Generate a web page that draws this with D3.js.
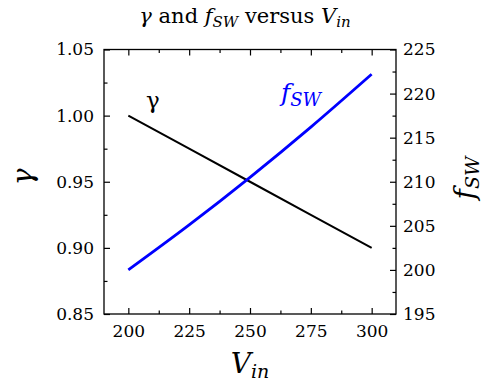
<!DOCTYPE html>
<html>
<head>
<meta charset="utf-8">
<script src="https://cdn.jsdelivr.net/npm/d3@7"></script>
<style>
  html, body { margin: 0; padding: 0; background: #fff; }
  svg { display: block; }
</style>
</head>
<body>
<svg id="chart" width="492" height="386"></svg>
<script>
// Input voltage samples and the two responses
const vin = [200, 225, 250, 275, 300];
const gamma = [1.000, 0.975, 0.950, 0.925, 0.900];
const fsw = [200.0, 205.1, 210.5, 216.2, 222.2];

const xTicks = [200, 225, 250, 275, 300];
const gammaTicks = [0.85, 0.90, 0.95, 1.00, 1.05];
const fswTicks = [195, 200, 205, 210, 215, 220, 225];

const SERIF = "'DejaVu Serif'";
const MATH = "'DejaVu Serif'";

const svg = d3.select("#chart");
const plot = { left: 104, top: 49.5, right: 396, bottom: 314 };

const x = d3.scaleLinear().domain([190, 310]).range([plot.left, plot.right]);
const yL = d3.scaleLinear().domain([0.85, 1.05]).range([plot.bottom, plot.top]);
const yR = d3.scaleLinear().domain([195, 225]).range([plot.bottom, plot.top]);

const major = 6, minor = 3.5;
const xMinor = d3.range(212.5, 310, 25);
const gMinor = d3.range(0.875, 1.05, 0.05);
const fMinor = d3.range(197.5, 225, 5);

function styleAxis(g) {
  g.attr("font-family", null);
  g.select(".domain").remove();
  g.selectAll(".tick line").attr("stroke", "#000").attr("stroke-width", 1.2);
  g.selectAll(".tick text")
    .style("font-family", SERIF).style("font-size", "17px").style("fill", "#000");
}

// bottom axis with labels, ticks pointing inward
svg.append("g").attr("transform", `translate(0,${plot.bottom})`)
  .call(d3.axisBottom(x).tickValues(xTicks).tickSize(-major).tickPadding(11).tickFormat(d3.format("d")))
  .call(styleAxis);
svg.append("g").attr("transform", `translate(0,${plot.bottom})`)
  .call(d3.axisBottom(x).tickValues(xMinor).tickSize(-minor).tickFormat(""))
  .call(styleAxis);
// top axis, ticks only
svg.append("g").attr("transform", `translate(0,${plot.top})`)
  .call(d3.axisTop(x).tickValues(xTicks).tickSize(-major).tickFormat(""))
  .call(styleAxis);
svg.append("g").attr("transform", `translate(0,${plot.top})`)
  .call(d3.axisTop(x).tickValues(xMinor).tickSize(-minor).tickFormat(""))
  .call(styleAxis);

// left axis for gamma
svg.append("g").attr("transform", `translate(${plot.left},0)`)
  .call(d3.axisLeft(yL).tickValues(gammaTicks).tickSize(-major).tickPadding(10).tickFormat(d3.format(".2f")))
  .call(styleAxis);
svg.append("g").attr("transform", `translate(${plot.left},0)`)
  .call(d3.axisLeft(yL).tickValues(gMinor).tickSize(-minor).tickFormat(""))
  .call(styleAxis);

// right axis for switching frequency
svg.append("g").attr("transform", `translate(${plot.right},0)`)
  .call(d3.axisRight(yR).tickValues(fswTicks).tickSize(-major).tickPadding(7).tickFormat(d3.format("d")))
  .call(styleAxis);
svg.append("g").attr("transform", `translate(${plot.right},0)`)
  .call(d3.axisRight(yR).tickValues(fMinor).tickSize(-minor).tickFormat(""))
  .call(styleAxis);

// frame
svg.append("rect")
  .attr("x", plot.left).attr("y", plot.top)
  .attr("width", plot.right - plot.left).attr("height", plot.bottom - plot.top)
  .attr("fill", "none").attr("stroke", "#000").attr("stroke-width", 1.3);

// data lines
const lineG = d3.line().x((d, i) => x(vin[i])).y(d => yL(d));
const lineF = d3.line().curve(d3.curveMonotoneX).x((d, i) => x(vin[i])).y(d => yR(d));

svg.append("path").datum(gamma).attr("d", lineG)
  .attr("fill", "none").attr("stroke", "#000").attr("stroke-width", 2);
svg.append("path").datum(fsw).attr("d", lineF)
  .attr("fill", "none").attr("stroke", "#0000ff").attr("stroke-width", 2.8);

// in-plot series labels
svg.append("text").attr("x", 146).attr("y", 108)
  .style("font-family", SERIF).style("font-size", "23px").text("γ");
const fl = svg.append("text").attr("x", 281).attr("y", 101)
  .style("font-family", SERIF).style("font-style", "italic").style("font-size", "25px").style("fill", "#0000ff");
fl.append("tspan").text("f");
fl.append("tspan").attr("dy", 5).style("font-size", "18px").text("SW");

// title
const title = svg.append("text").attr("x", 245).attr("y", 23).attr("text-anchor", "middle")
  .style("font-family", MATH).style("font-size", "21px");
title.append("tspan").style("font-style", "italic").text("γ");
title.append("tspan").text(" and ");
title.append("tspan").style("font-style", "italic").text("f");
title.append("tspan").style("font-style", "italic").style("font-size", "15px").attr("dy", 4).text("SW");
title.append("tspan").attr("dy", -4).text(" versus ");
title.append("tspan").style("font-style", "italic").text("V");
title.append("tspan").style("font-style", "italic").style("font-size", "15px").attr("dy", 4).text("in");

// axis titles
svg.append("text").attr("transform", "translate(32,177) rotate(-90)")
  .attr("text-anchor", "middle")
  .style("font-family", MATH).style("font-size", "28px").style("font-style", "italic").text("γ");

const rl = svg.append("text").attr("transform", "translate(474,178) rotate(-90)")
  .attr("text-anchor", "middle")
  .style("font-family", MATH).style("font-size", "28px").style("font-style", "italic");
rl.append("tspan").text("f");
rl.append("tspan").style("font-size", "19px").attr("dy", 5).text("SW");

const xl = svg.append("text").attr("x", 250).attr("y", 373).attr("text-anchor", "middle")
  .style("font-family", MATH).style("font-size", "28px").style("font-style", "italic");
xl.append("tspan").text("V");
xl.append("tspan").style("font-size", "19px").attr("dy", 5).text("in");
</script>
</body>
</html>
